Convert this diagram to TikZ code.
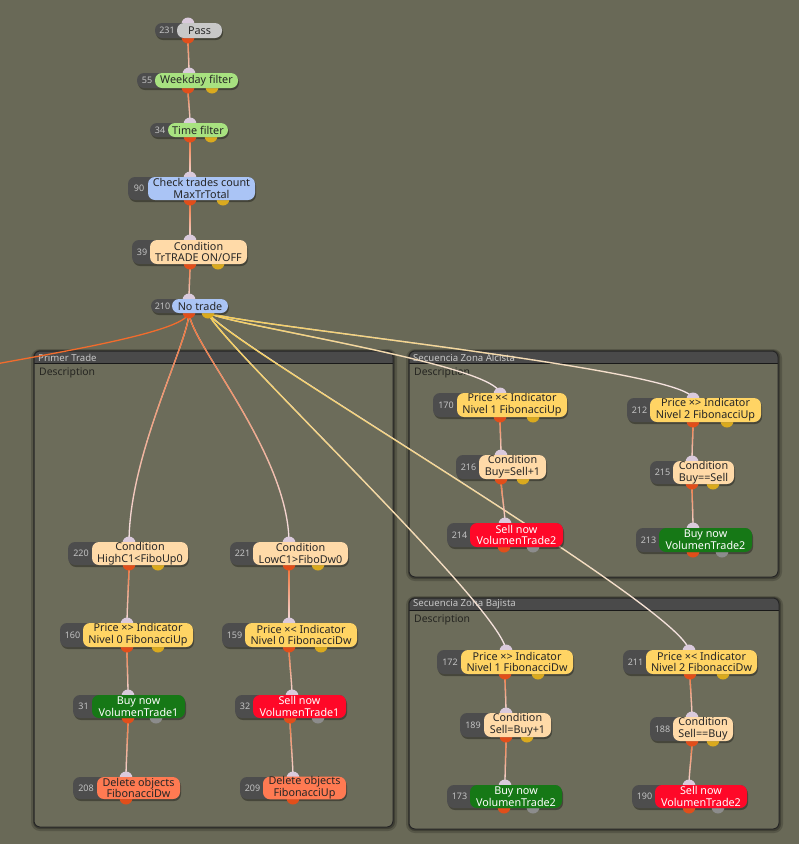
\documentclass[tikz,border=0pt]{standalone}
\usepackage{fontspec}
\setmainfont{Noto Sans}
\usetikzlibrary{fadings,calc}
\definecolor{bgc}{RGB}{105,105,87}
\definecolor{panelc}{RGB}{108,108,90}
\definecolor{headc}{RGB}{74,74,74}
\definecolor{headtxt}{RGB}{200,200,200}
\definecolor{desctxt}{RGB}{38,38,34}
\definecolor{darkpillc}{RGB}{77,77,77}
\definecolor{numc}{RGB}{195,195,195}
\definecolor{passc}{RGB}{200,200,200}
\definecolor{greenlc}{RGB}{168,226,128}
\definecolor{bluec}{RGB}{170,196,245}
\definecolor{peachc}{RGB}{255,218,168}
\definecolor{indc}{RGB}{255,212,100}
\definecolor{buyc}{RGB}{22,120,22}
\definecolor{sellc}{RGB}{255,8,40}
\definecolor{delc}{RGB}{255,122,82}
\definecolor{portinc}{RGB}{218,202,220}
\definecolor{portredc}{RGB}{225,78,26}
\definecolor{portyelc}{RGB}{218,170,30}
\definecolor{portgrayc}{RGB}{140,140,140}
\definecolor{corange}{RGB}{242,108,44}
\definecolor{cyellow}{RGB}{247,206,80}
\definecolor{cend}{RGB}{245,228,232}
\pgfdeclarelayer{grp}\pgfdeclarelayer{conn}
\pgfsetlayers{grp,conn,main}
\tikzset{
  pill/.style={rounded corners=7pt,inner sep=0pt,outer sep=0pt,align=center,
    font=\fontsize{10.8}{11.8}\selectfont},
  pPass/.style={fill=passc,text=black!85},
  pGreen/.style={fill=greenlc,text=black!85},
  pBlue/.style={fill=bluec,text=black!85},
  pPeach/.style={fill=peachc,text=black!85},
  pInd/.style={fill=indc,text=black!85},
  pBuy/.style={fill=buyc,text=white},
  pSell/.style={fill=sellc,text=white},
  pDel/.style={fill=delc,text=black!85},
  numtext/.style={text=numc,font=\fontsize{9}{10}\selectfont,inner sep=0pt},
  connline/.style={line width=1.3pt},
  grptitle/.style={text=headtxt,font=\fontsize{9.6}{11}\selectfont,inner sep=0pt,anchor=west},
  grpdesc/.style={text=desctxt,font=\fontsize{10.4}{12}\selectfont,inner sep=0pt,anchor=west},
}
\newcommand\ports[4]{\def\prtin{#1}\def\prta{#2}\def\prtb{#3}\def\prtbc{#4}}
\newcommand\bnode[9]{%
  \fill[black,opacity=.35,rounded corners=7pt] (#2+1,#5+2) rectangle (#4+1,#6+2);
  \fill[portinc] (\prtin,#5+1) circle (6.5pt);
  \fill[portredc] (\prta,#6-1) circle (6.5pt);
  \ifx\prtb\empty\else\fill[fill=\prtbc] (\prtb,#6-1) circle (6.5pt);\fi
  \coordinate (#1-in) at (\prtin,#5+1);
  \coordinate (#1-o1) at (\prta,#6-1);
  \ifx\prtb\empty\else\coordinate (#1-o2) at (\prtb,#6-1);\fi
  \fill[darkpillc,rounded corners=7pt] (#2,#5) rectangle (#4,#6);
  \node[numtext] (#1-num) at ({(#2+#3)/2+1},{(#5+#6)/2}) {#8};
  \node[pill,#7,minimum width={(#4-#3)*1pt},minimum height={(#6-#5)*1pt}] (#1) at ({(#3+#4)/2},{(#5+#6)/2}) {#9};
}
\newcommand\conn[6][south]{%
  \begin{pgfonlayer}{conn}
  \draw[connline,draw=cend] (#2) .. controls +(0,#4) and +(0,-#5) .. (#3);
  \draw[connline,draw=#6,path fading=#1] (#2) .. controls +(0,#4) and +(0,-#5) .. (#3);
  \end{pgfonlayer}
}
\newcommand\grpbox[6]{%
  \begin{pgfonlayer}{grp}
  \fill[black,opacity=.18,rounded corners=9pt] (#1-3,#2-2) rectangle (#3+4,#4+4);
  \fill[black,opacity=.25,rounded corners=7pt] (#1-1,#2-1) rectangle (#3+2,#4+2);
  \fill[panelc,rounded corners=6pt] (#1,#2) rectangle (#3,#4);
  \fill[headc,rounded corners=6pt] (#1,#2) rectangle (#3,#2+12);
  \fill[headc] (#1,#2+6) rectangle (#3,#2+12);
  \draw[black!90,line width=1pt] (#1,#2+12.5) -- (#3,#2+12.5);
  \draw[black!85,line width=1pt,rounded corners=6pt] (#1,#2) rectangle (#3,#4);
  \node[grptitle] (#5-title) at (#1+4,#2+6.5) {#6};
  \node[grpdesc] (#5-desc) at (#1+5,#2+22) {Description};
  \end{pgfonlayer}
}
\begin{document}
\begin{tikzpicture}[x=1pt,y=-1pt]
\useasboundingbox (0,0) rectangle (799,844);
\begin{pgfonlayer}{grp}
\fill[bgc] (0,0) rectangle (799,844);
\end{pgfonlayer}
\clip (0,0) rectangle (799,844);

\grpbox{34}{351}{393}{827}{gA}{Primer Trade}
\grpbox{409}{351}{778}{577}{gB}{Secuencia Zona Alcista}
\grpbox{409}{598}{779}{829}{gC}{Secuencia Zona Bajista}

\ports{188}{188}{}{}\bnode{n231}{155}{177}{222}{23}{38}{pPass}{231}{Pass}
\ports{189}{188}{212}{portyelc}\bnode{n55}{137}{155}{238}{73}{88}{pGreen}{55}{Weekday filter}
\ports{190}{190}{211}{portyelc}\bnode{n34}{150}{168}{228}{123}{137}{pGreen}{34}{Time filter}
\ports{190}{190}{223}{portyelc}\bnode{n90}{128}{148}{255}{177}{200}{pBlue}{90}{Check trades count\\MaxTrTotal}
\ports{190}{190}{218}{portyelc}\bnode{n39}{132}{150}{247}{240}{264}{pPeach}{39}{Condition\\TrTRADE ON/OFF}
\ports{189}{189}{208}{portyelc}\bnode{n210}{151}{172}{228}{299}{313}{pBlue}{210}{No trade}

\ports{129}{129}{158}{portyelc}\bnode{n220}{68}{92}{188}{542}{565}{pPeach}{220}{Condition\\HighC1<FiboUp0}
\ports{289}{289}{318}{portyelc}\bnode{n221}{230}{253}{348}{542}{565}{pPeach}{221}{Condition\\LowC1>FiboDw0}
\ports{127}{127}{158}{portyelc}\bnode{n160}{60}{83}{193}{623}{647}{pInd}{160}{Price ×> Indicator\\Nivel 0 FibonacciUp}
\ports{289}{289}{321}{portyelc}\bnode{n159}{222}{245}{357}{623}{647}{pInd}{159}{Price ×< Indicator\\Nivel 0 FibonacciDw}
\ports{128}{128}{156}{portgrayc}\bnode{n31}{73}{92}{185}{695}{718}{pBuy}{31}{Buy now\\VolumenTrade1}
\ports{292}{290}{318}{portgrayc}\bnode{n32}{235}{253}{346}{695}{718}{pSell}{32}{Sell now\\VolumenTrade1}
\ports{126}{126}{}{}\bnode{n208}{73}{97}{180}{777}{799}{pDel}{208}{Delete objects\\FibonacciDw}
\ports{293}{293}{}{}\bnode{n209}{240}{263}{346}{777}{799}{pDel}{209}{Delete objects\\FibonacciUp}

\ports{500}{500}{533}{portyelc}\bnode{n170}{433}{457}{567}{393}{417}{pInd}{170}{Price ×< Indicator\\Nivel 1 FibonacciUp}
\ports{693}{693}{727}{portyelc}\bnode{n212}{627}{650}{761}{398}{422}{pInd}{212}{Price ×> Indicator\\Nivel 2 FibonacciUp}
\ports{501}{501}{523}{portyelc}\bnode{n216}{456}{479}{546}{455}{479}{pPeach}{216}{Condition\\Buy=Sell+1}
\ports{692}{692}{713}{portyelc}\bnode{n215}{650}{673}{734}{461}{484}{pPeach}{215}{Condition\\Buy==Sell}
\ports{505}{504}{533}{portgrayc}\bnode{n214}{447}{470}{563}{523}{547}{pSell}{214}{Sell now\\VolumenTrade2}
\ports{693}{693}{722}{portgrayc}\bnode{n213}{636}{659}{752}{528}{552}{pBuy}{213}{Buy now\\VolumenTrade2}

\ports{506}{505}{538}{portyelc}\bnode{n172}{437}{461}{573}{650}{674}{pInd}{172}{Price ×> Indicator\\Nivel 1 FibonacciDw}
\ports{689}{690}{723}{portyelc}\bnode{n211}{623}{646}{757}{650}{674}{pInd}{211}{Price ×< Indicator\\Nivel 2 FibonacciDw}
\ports{506}{506}{527}{portyelc}\bnode{n189}{460}{484}{551}{713}{737}{pPeach}{189}{Condition\\Sell=Buy+1}
\ports{692}{692}{713}{portyelc}\bnode{n188}{650}{673}{733}{717}{741}{pPeach}{188}{Condition\\Sell==Buy}
\ports{505}{504}{533}{portgrayc}\bnode{n173}{447}{470}{562}{785}{808}{pBuy}{173}{Buy now\\VolumenTrade2}
\ports{689}{689}{718}{portgrayc}\bnode{n190}{632}{655}{747}{785}{808}{pSell}{190}{Sell now\\VolumenTrade2}

\coordinate (offL) at (-40,371);
\begin{pgfonlayer}{conn}
\draw[connline,draw=corange] (n210-o1) .. controls +(0,22) and +(60,-13) .. (offL);
\end{pgfonlayer}

\conn{n231-o1}{n55-in}{12}{12}{corange}
\conn{n55-o1}{n34-in}{12}{12}{corange}
\conn{n34-o1}{n90-in}{15}{15}{corange}
\conn{n90-o1}{n39-in}{15}{15}{corange}
\conn{n39-o1}{n210-in}{12}{12}{corange}
\conn{n210-o1}{n220-in}{30}{90}{corange}
\conn{n210-o1}{n221-in}{30}{90}{corange}
\conn[east]{n210-o2}{n170-in}{10}{30}{cyellow}
\conn[east]{n210-o2}{n212-in}{10}{30}{cyellow}
\conn{n210-o2}{n172-in}{20}{40}{cyellow}
\conn{n210-o2}{n211-in}{20}{40}{cyellow}

\conn{n220-o1}{n160-in}{15}{15}{corange}
\conn{n160-o1}{n31-in}{15}{15}{corange}
\conn{n31-o1}{n208-in}{15}{15}{corange}
\conn{n221-o1}{n159-in}{15}{15}{corange}
\conn{n159-o1}{n32-in}{15}{15}{corange}
\conn{n32-o1}{n209-in}{15}{15}{corange}

\conn{n170-o1}{n216-in}{12}{12}{corange}
\conn{n216-o1}{n214-in}{12}{12}{corange}
\conn{n212-o1}{n215-in}{12}{12}{corange}
\conn{n215-o1}{n213-in}{12}{12}{corange}

\conn{n172-o1}{n189-in}{12}{12}{corange}
\conn{n189-o1}{n173-in}{15}{15}{corange}
\conn{n211-o1}{n188-in}{12}{12}{corange}
\conn{n188-o1}{n190-in}{15}{15}{corange}
\end{tikzpicture}
\end{document}
